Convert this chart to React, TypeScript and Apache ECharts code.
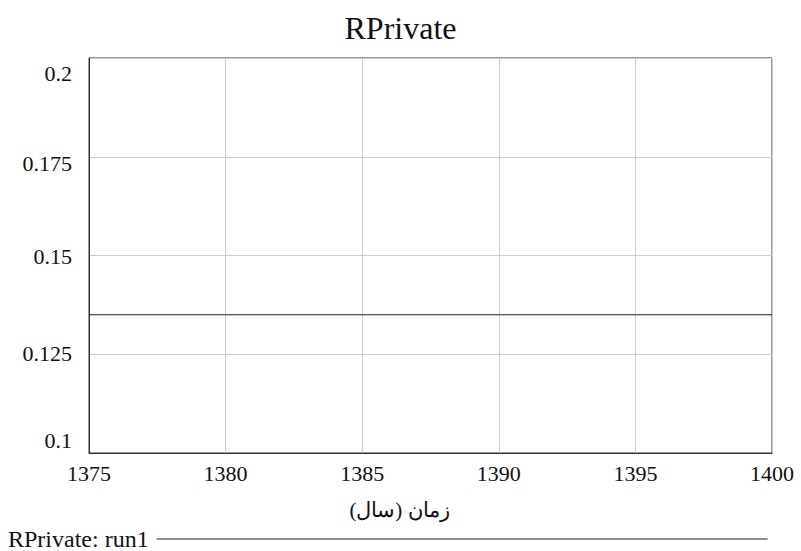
import React, { useEffect, useRef } from "react";
import * as echarts from "echarts";

const years = [1375, 1380, 1385, 1390, 1395, 1400];
const rprivate = [0.135, 0.135, 0.135, 0.135, 0.135, 0.135];
const titleText = "RPrivate";
const xName = "زمان (سال)";
const seriesName = "RPrivate: run1";

const FONT = "'Liberation Serif', 'DejaVu Serif', serif";

export default function App() {
  const ref = useRef<HTMLDivElement>(null);
  useEffect(() => {
    if (!ref.current) return;
    const chart = echarts.init(ref.current, null, { renderer: "svg" });
    const lab = (v: number) => Math.round(v * 1000);
    chart.setOption({
      animation: false,
      backgroundColor: "#ffffff",
      title: {
        text: titleText,
        left: "center",
        top: 7,
        textStyle: { fontFamily: FONT, fontSize: 32, fontWeight: "normal", color: "#111" },
      },
      grid: {
        left: 89,
        right: 29,
        top: 58,
        bottom: 98,
        show: true,
        borderColor: "#333",
        borderWidth: 1,
        containLabel: false,
      },
      legend: {
        left: 8,
        top: 527,
        padding: 0,
        align: "right",
        icon: "rect",
        itemWidth: 611,
        itemHeight: 1,
        textStyle: { fontFamily: FONT, fontSize: 24, color: "#111", padding: [0, 3, 0, 0] },
        data: [seriesName],
      },
      xAxis: {
        type: "value",
        min: 1375,
        max: 1400,
        interval: 5,
        name: xName,
        nameLocation: "middle",
        nameGap: 46,
        nameTextStyle: { fontFamily: FONT, fontSize: 21, color: "#111", padding: [0, 62, 0, 0] },
        axisLine: { show: true, lineStyle: { color: "#333" } },
        axisTick: { show: false },
        splitLine: { show: true, lineStyle: { color: "#cccccc", width: 1 } },
        axisLabel: {
          fontFamily: FONT,
          fontSize: 22,
          color: "#111",
          margin: 9,
          formatter: (v: number) => String(v),
        },
      },
      yAxis: {
        type: "value",
        min: 0.1,
        max: 0.2,
        interval: 0.025,
        axisLine: { show: true, lineStyle: { color: "#333" } },
        axisTick: { show: false },
        splitLine: { show: true, lineStyle: { color: "#cccccc", width: 1 } },
        axisLabel: {
          fontFamily: FONT,
          fontSize: 22,
          color: "#111",
          margin: 17,
          formatter: (v: number) => {
            const s = String(Math.round(v * 1000) / 1000);
            const k = lab(v);
            if (k === 200) return "{a|" + s + "}";
            if (k === 175) return "{b|" + s + "}";
            if (k === 150) return "{c|" + s + "}";
            if (k === 125) return "{d|" + s + "}";
            return "{e|" + s + "}";
          },
          rich: {
            a: { fontFamily: FONT, fontSize: 22, color: "#111", padding: [30, 0, 0, 0] },
            b: { fontFamily: FONT, fontSize: 22, color: "#111", padding: [14, 0, 0, 0] },
            c: { fontFamily: FONT, fontSize: 22, color: "#111", padding: [2, 0, 0, 0] },
            d: { fontFamily: FONT, fontSize: 22, color: "#111", padding: [0, 0, 2, 0] },
            e: { fontFamily: FONT, fontSize: 22, color: "#111", padding: [0, 0, 26, 0] },
          },
        },
      },
      series: [
        {
          name: seriesName,
          type: "line",
          data: years.map((y, i) => [y, rprivate[i]]),
          showSymbol: false,
          lineStyle: { color: "#222", width: 1 },
          itemStyle: { color: "#222" },
        },
      ],
    });
    return () => chart.dispose();
  }, []);
  return <div ref={ref} style={{ width: 801, height: 551, position: "absolute", left: 0, top: 0 }} />;
}
